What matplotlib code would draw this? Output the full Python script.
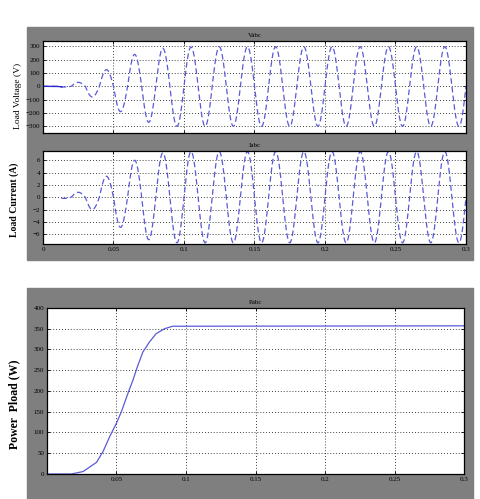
import numpy as np
import matplotlib.pyplot as plt

# half-cycle peak values (one per 10 ms, from t = 0.01 s)
volt_peaks = [-5, 30, -80, 125, -190, 240, -270, 285, -300, 295, -300, 297,
              -300, 297, -300, 297, -300, 297, -300, 297, -300, 297, -300,
              297, -300, 297, -300, 297, -300]
curr_peaks = [-0.2, 0.8, -2.0, 3.4, -4.9, 6.0, -6.9, 7.2, -7.4, 7.4, -7.4, 7.4,
              -7.4, 7.4, -7.4, 7.4, -7.4, 7.4, -7.4, 7.4, -7.4, 7.4, -7.4,
              7.4, -7.4, 7.4, -7.4, 7.4, -7.4]
freq = 50.0
t_start = 0.01

# load power points
p_time = [0, 0.0177, 0.026, 0.0356, 0.0403, 0.0451, 0.0499, 0.0535, 0.0582,
          0.0618, 0.0654, 0.069, 0.0737, 0.0785, 0.0845, 0.0904, 0.3]
p_load = [0, 0, 6, 28, 54, 90, 122, 150, 194, 226, 262, 294, 318, 338, 350,
          356, 357]

v_ticks = [-300, -200, -100, 0, 100, 200, 300]
i_ticks = [-6, -4, -2, 0, 2, 4, 6]
t_ticks = [0, 0.05, 0.1, 0.15, 0.2, 0.25, 0.3]
p_ticks = [0, 50, 100, 150, 200, 250, 300, 350, 400]
p_xticks = [0.05, 0.1, 0.15, 0.2, 0.25, 0.3]


def wave(peaks, t):
    out = np.zeros_like(t)
    for k, pk in enumerate(peaks):
        a = t_start + k / (2 * freq)
        m = (t >= a) & (t <= a + 1 / (2 * freq))
        out[m] = abs(pk) * np.sin(2 * np.pi * freq * t[m])
    return out


t = np.linspace(0, 0.3, 6001)
v = wave(volt_peaks, t)
i = wave(curr_peaks, t)

gray = '#7f7f7f'
blue = '#5a5ad8'
plt.rcParams['font.family'] = ['Liberation Serif', 'DejaVu Serif']

fig = plt.figure(figsize=(4.81, 4.99), dpi=100)
fig.patches.append(plt.Rectangle((0.0561, 0.479), 0.9272, 0.4669,
                                 transform=fig.transFigure, color=gray, zorder=-10))
fig.patches.append(plt.Rectangle((0.0561, 0.0), 0.9272, 0.4228,
                                 transform=fig.transFigure, color=gray, zorder=-10))


def style(ax):
    ax.set_facecolor('white')
    ax.tick_params(direction='in', top=True, right=True, labelsize=5,
                   length=2.5, width=0.6, pad=2, colors='black')
    for s in ax.spines.values():
        s.set_linewidth(0.9)
    ax.grid(True, linestyle=(0, (1, 2.5)), color='black', linewidth=0.6)


ax1 = fig.add_axes([0.0894, 0.7335, 0.8794, 0.1843])
ax1.plot(t, v, color=blue, linestyle=(0, (4.5, 2.5)), linewidth=0.9)
m0 = t <= 0.0135
ax1.plot(t[m0], v[m0], color='#2a2ad0', linewidth=1.0)
ax1.set_xlim(0, 0.3)
ax1.set_ylim(-350, 340)
ax1.set_yticks(v_ticks)
ax1.set_xticks(t_ticks)
ax1.set_xticklabels([])
ax1.set_title('Vabc', fontsize=5, pad=3)
ax1.set_ylabel('Load Voltage (V)', fontsize=6.8)
ax1.yaxis.set_label_coords(-0.05, 0.40)
style(ax1)

ax2 = fig.add_axes([0.0894, 0.511, 0.8794, 0.1864])
ic = np.where(t >= 0.013, i, np.nan)
ax2.plot(t, ic, color=blue, linestyle=(0, (4.5, 2.5)), linewidth=0.9)
ax2.set_xlim(0, 0.3)
ax2.set_ylim(-7.6, 7.5)
ax2.set_yticks(i_ticks)
ax2.set_xticks(t_ticks)
ax2.set_xticklabels(['0', '0.05', '0.1', '0.15', '0.2', '0.25', '0.3'])
ax2.set_title('Iabc', fontsize=5, pad=3)
ax2.set_ylabel('Load Current (A)', fontsize=7, fontweight='bold')
ax2.yaxis.set_label_coords(-0.057, 0.47)
style(ax2)

ax3 = fig.add_axes([0.0977, 0.0501, 0.867, 0.3327])
ax3.plot(p_time, p_load, color=blue, linewidth=0.9)
ax3.set_xlim(0, 0.3)
ax3.set_ylim(0, 400)
ax3.set_yticks(p_ticks)
ax3.set_xticks(p_xticks)
ax3.set_xticklabels(['0.05', '0.1', '0.15', '0.2', '0.25', '0.3'])
ax3.set_title('Pabc', fontsize=5, pad=3)
ax3.set_ylabel('Power  Pload (W)', fontsize=8.5, fontweight='bold')
ax3.yaxis.set_label_coords(-0.065, 0.42)
style(ax3)

fig.savefig('out.png', dpi=100)
